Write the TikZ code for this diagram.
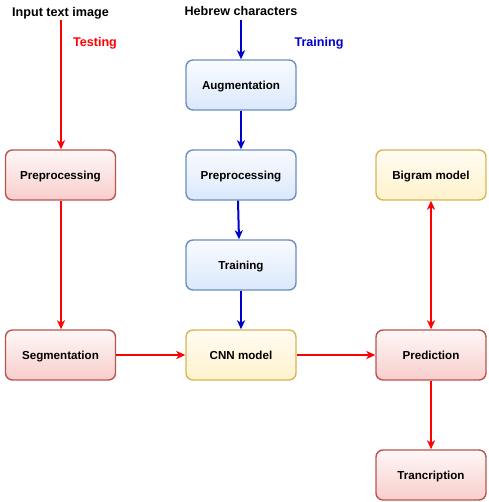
\documentclass[tikz,border=0pt]{standalone}
\usepackage{fontspec}
\setmainfont{Liberation Sans}
\usetikzlibrary{arrows.meta}
\definecolor{redstroke}{HTML}{B85450}
\definecolor{redfill}{HTML}{F8CECC}
\definecolor{bluestroke}{HTML}{6C8EBF}
\definecolor{bluefill}{HTML}{DAE8FC}
\definecolor{yelstroke}{HTML}{D6B656}
\definecolor{yelfill}{HTML}{FFF2CC}
\definecolor{arrred}{HTML}{FF0000}
\definecolor{arrblue}{HTML}{0000CC}
\tikzset{
  box/.style={rounded corners=7pt, minimum width=110pt, minimum height=50pt, line width=1.4pt,
    font=\fontsize{11.6}{13}\selectfont\bfseries, inner sep=0pt, text height=8.3pt, text depth=0pt},
  redbox/.style={box, draw=redstroke, top color=redfill!15, bottom color=redfill},
  bluebox/.style={box, draw=bluestroke, top color=bluefill!15, bottom color=bluefill},
  yelbox/.style={box, draw=yelstroke, top color=yelfill!25, bottom color=yelfill},
  title/.style={font=\fontsize{12.6}{14}\selectfont\bfseries, inner sep=0pt, text height=9pt, text depth=0pt},
  tip/.style={Stealth[length=9pt,width=8pt,inset=2.5pt]},
  redarr/.style={draw=arrred, line width=2pt, -{Stealth[length=9pt,width=8pt,inset=2.5pt]}},
  bluearr/.style={draw=arrblue, line width=2pt, -{Stealth[length=9pt,width=8pt,inset=2.5pt]}},
}
\begin{document}
\begin{tikzpicture}[x=1pt,y=-1pt]
\useasboundingbox (0,0) rectangle (488,502);
% nodes
\node[redbox] (pre1) at (60.5,175) {Preprocessing};
\node[redbox] (seg) at (60.5,355) {Segmentation};
\node[bluebox] (aug) at (241,85) {Augmentation};
\node[bluebox] (pre2) at (241,175) {Preprocessing};
\node[bluebox] (train) at (241,265) {Training};
\node[yelbox] (cnn) at (241,355) {CNN model};
\node[yelbox] (bigram) at (431,175) {Bigram model};
\node[redbox] (pred) at (431,355) {Prediction};
\node[redbox] (trans) at (431,475) {Trancription};
\node[title] (input) at (60.5,12) {Input text image};
\node[title] (hebrew) at (241,11) {Hebrew characters};
\node[title, text=arrred] (testing) at (95,42) {Testing};
\node[title, text=arrblue] (training) at (319,42) {Training};
\coordinate (inS) at (61,20);
\coordinate (hebS) at (241,20);
% arrows
\draw[redarr] (inS) -- (pre1.north -| inS);
\draw[redarr] (pre1.south -| inS) -- (seg.north -| inS);
\draw[redarr] (seg) -- (cnn);
\draw[redarr] (cnn) -- (pred);
\draw[redarr, {Stealth[length=9pt,width=8pt,inset=2.5pt]}-{Stealth[length=9pt,width=8pt,inset=2.5pt]}] (pred) -- (bigram);
\draw[redarr] (pred) -- (trans);
\draw[bluearr] (hebS) -- (aug.north);
\draw[bluearr] (aug) -- (pre2);
\draw[bluearr] (pre2.south -| 238,0) -- (train.north -| 239,0);
\draw[bluearr] (train) -- (cnn);
\end{tikzpicture}
\end{document}
